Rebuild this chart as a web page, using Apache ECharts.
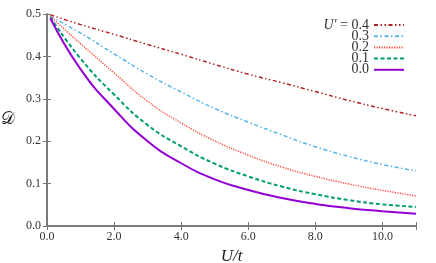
<!DOCTYPE html>
<html><head><meta charset="utf-8">
<script src="https://cdn.jsdelivr.net/npm/echarts@6/dist/echarts.min.js"></script>
<style>html,body{margin:0;padding:0;background:#fff}#c{width:436px;height:263px}</style>
</head><body><div id="c"></div>
<script>
const U = [0.1,1,2,3,4,5,6,7,8,9,10,11];
const D04 = [0.498,0.475,0.452,0.428,0.405,0.381,0.358,0.338,0.317,0.296,0.277,0.260];
const D03 = [0.494,0.455,0.406,0.358,0.316,0.277,0.245,0.215,0.187,0.164,0.145,0.130];
const D02 = [0.494,0.430,0.361,0.294,0.243,0.201,0.167,0.139,0.117,0.099,0.084,0.071];
const D01 = [0.492,0.395,0.310,0.238,0.188,0.147,0.117,0.093,0.075,0.061,0.051,0.045];
const D00 = [0.490,0.370,0.276,0.200,0.148,0.110,0.085,0.066,0.052,0.042,0.035,0.029];
const xTicks = [0,2,4,6,8,10];
const yTicks = [0,0.1,0.2,0.3,0.4,0.5];
const names = ['0.4','0.3','0.2','0.1','0.0'];

const serif = 'Liberation Serif';
const zip = arr => U.map((u,i)=>[u,arr[i]]);
const mk = (name, arr, color, type, width) => ({
  name, type:'line', data: zip(arr), showSymbol:false, symbol:'none', smooth:true,
  lineStyle:{color, type, width}, itemStyle:{color}, xAxisIndex:0, yAxisIndex:0
});
const chart = echarts.init(document.getElementById('c'), null, {renderer:'canvas'});
chart.setOption({
  animation:false,
  grid:{left:47, right:20, top:14, bottom:37, containLabel:false, outerBoundsMode:'none'},
  xAxis:[{
    type:'value', min:0, max:11, interval:2, position:'bottom',
    name:'U/t', nameLocation:'middle', nameGap:16,
    nameTextStyle:{fontFamily:serif, fontStyle:'italic', fontSize:17, color:'#222'},
    axisLine:{show:true, lineStyle:{color:'#555', width:1.5}},
    axisTick:{show:true, inside:true, length:4, lineStyle:{color:'#777'}},
    axisLabel:{fontFamily:serif, fontSize:12, color:'#333', margin:5,
      formatter:v => v===11 ? '' : v.toFixed(1)},
    splitLine:{show:false}
  },{
    type:'value', min:0, max:11, interval:2, position:'top',
    axisLine:{show:true, lineStyle:{color:'#777', width:1}},
    axisTick:{show:true, inside:true, length:4, lineStyle:{color:'#777'}},
    axisLabel:{show:false}, splitLine:{show:false}
  }],
  yAxis:[{
    type:'value', min:0, max:0.5, interval:0.1, position:'left',
    name:'𝒟', nameLocation:'middle', nameGap:32, nameRotate:0,
    nameTextStyle:{fontFamily:'DejaVu Serif', fontSize:17, color:'#222'},
    axisLine:{show:true, lineStyle:{color:'#555', width:1.5}},
    axisTick:{show:true, inside:true, length:4, lineStyle:{color:'#777'}},
    axisLabel:{fontFamily:serif, fontSize:12, color:'#333', margin:6,
      formatter:v => v.toFixed(1)},
    splitLine:{show:false}
  },{
    type:'value', min:0, max:0.5, interval:0.1, position:'right',
    axisLine:{show:true, lineStyle:{color:'#777', width:1}},
    axisTick:{show:true, inside:true, length:4, lineStyle:{color:'#777'}},
    axisLabel:{show:false}, splitLine:{show:false}
  }],
  legend:{
    data:names, orient:'vertical', right:31, top:18, align:'right',
    itemWidth:30, itemHeight:10, itemGap:-2.8, padding:0,
    itemStyle:{opacity:0, borderWidth:0},
    textStyle:{fontFamily:serif, fontSize:14, color:'#333',
      rich:{i:{fontFamily:serif, fontStyle:'italic', fontSize:14, color:'#333'},
            n:{fontFamily:serif, fontSize:14, color:'#333'}}},
    formatter: n => n==='0.4' ? '{i|U′} {n|= 0.4}' : n
  },
  series:[
    mk(names[0], D04, '#b22222', [4,2.5,1.5,2.5,1.5,2.5], 1.5),
    mk(names[1], D03, '#56b4e9', [4,2.5,1.5,2.5], 1.5),
    mk(names[2], D02, '#ff4a3d', [1.2,1.3], 1.5),
    mk(names[3], D01, '#009e73', [4,2.5], 2),
    mk(names[4], D00, '#9400d3', 'solid', 2)
  ]
});
</script></body></html>
